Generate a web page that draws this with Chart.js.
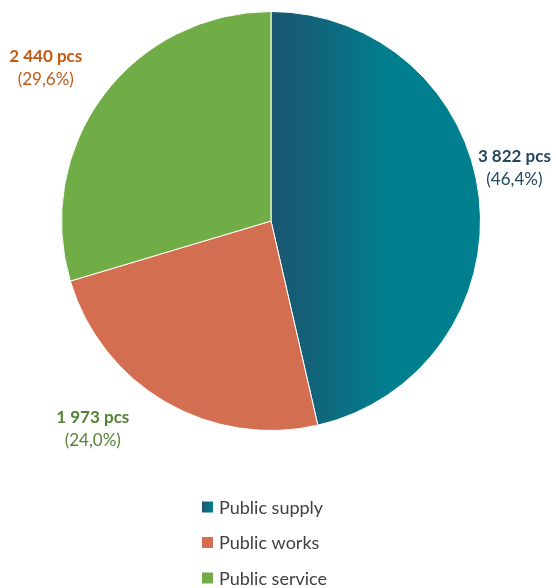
<!DOCTYPE html>
<html>
<head>
<meta charset="utf-8">
<script src="https://cdn.jsdelivr.net/npm/chart.js@4"></script>
<style>
  body { margin: 0; background: #fff; }
  #wrap { width: 556px; height: 588px; position: relative; }
</style>
</head>
<body>
<div id="wrap"><canvas id="chart"></canvas></div>
<script>
const categories = ["Public supply", "Public works", "Public service"];
const pieces = [3822, 1973, 2440];
const sliceColors = ["#00808f", "#d36e51", "#70ad47"];
const labelColors = ["#22475f", "#548235", "#c55a11"];
// shift of each data label from the point on the slice bisector
const labelShift = [[4, -26], [-57, 0], [-32, -9]];

const FONT = "Lato, 'Open Sans', sans-serif";

function supplyGradient(ctx, area, x0) {
    const r = Math.min(area.width, area.height) / 2;
    const g = ctx.createLinearGradient(x0, 0, x0 + r * 0.58, 0);
    g.addColorStop(0, "#1b5570");
    g.addColorStop(1, "#00808f");
    return g;
}

function sliceFill(c) {
    if (c.dataIndex !== 0) return sliceColors[c.dataIndex];
    const area = c.chart.chartArea;
    if (!area) return sliceColors[0];
    return supplyGradient(c.chart.ctx, area, (area.left + area.right) / 2);
}

function fmtNumber(v) {
    return String(v).replace(/\B(?=(\d{3})+(?!\d))/g, " ");
}

const total = pieces.reduce((a, b) => a + b, 0);

// data labels outside the pie
const pieLabels = {
    id: "pieLabels",
    afterDatasetsDraw(chart) {
        const ctx = chart.ctx;
        const arcs = chart.getDatasetMeta(0).data;
        ctx.save();
        ctx.textAlign = "center";
        ctx.textBaseline = "middle";
        arcs.forEach((arc, i) => {
            const mid = (arc.startAngle + arc.endAngle) / 2;
            const rr = arc.outerRadius * 1.15;
            const x = arc.x + Math.cos(mid) * rr + labelShift[i][0];
            const y = arc.y + Math.sin(mid) * rr + labelShift[i][1];
            const pct = (pieces[i] / total * 100).toFixed(1).replace(".", ",");
            ctx.fillStyle = labelColors[i];
            ctx.font = "bold 17px " + FONT;
            ctx.fillText(fmtNumber(pieces[i]) + " pcs", x, y - 11.5);
            ctx.font = "17px " + FONT;
            ctx.fillText("(" + pct + "%)", x, y + 11.5);
        });
        ctx.restore();
    }
};

// vertical legend under the pie
const vLegend = {
    id: "vLegend",
    afterDraw(chart) {
        const ctx = chart.ctx;
        ctx.save();
        ctx.textBaseline = "middle";
        ctx.font = "18px " + FONT;
        categories.forEach((name, i) => {
            const y = 507 + i * 35.5;
            if (i === 0) {
                const g = ctx.createLinearGradient(202, 0, 213, 0);
                g.addColorStop(0, "#1b5570");
                g.addColorStop(1, "#00808f");
                ctx.fillStyle = g;
            } else {
                ctx.fillStyle = sliceColors[i];
            }
            ctx.fillRect(202, y - 5.5, 11, 11);
            ctx.fillStyle = "#404040";
            ctx.fillText(name, 219, y + 1);
        });
        ctx.restore();
    }
};

new Chart(document.getElementById("chart").getContext("2d"), {
    type: "pie",
    data: {
        labels: categories,
        datasets: [{
            data: pieces,
            backgroundColor: sliceFill,
            borderColor: "#ffffff",
            borderWidth: 1,
        }],
    },
    options: {
        responsive: true,
        maintainAspectRatio: false,
        animation: false,
        layout: { padding: { left: 61, right: 75, top: 11, bottom: 157 } },
        plugins: {
            legend: { display: false },
            tooltip: { enabled: false },
        },
    },
    plugins: [pieLabels, vLegend],
});
</script>
</body>
</html>
